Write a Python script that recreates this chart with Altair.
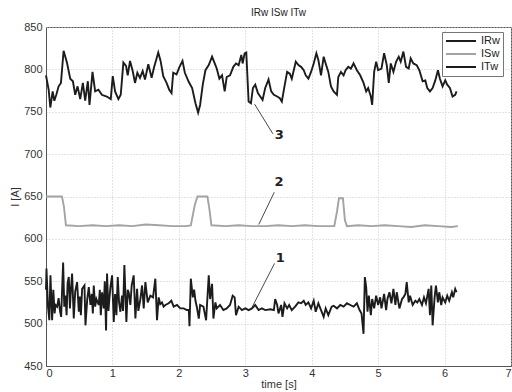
import altair as alt
import pandas as pd

# Phase currents over time: (time [s], current [A]) samples
irw_points = [
    (0.0, 540), (0.007, 565), (0.03, 520), (0.05, 504), (0.067, 557), (0.092, 504),
    (0.11, 540), (0.13, 512), (0.143, 522), (0.168, 520), (0.19, 530), (0.21, 515),
    (0.228, 508), (0.245, 545), (0.258, 572), (0.275, 520), (0.293, 533), (0.31, 510),
    (0.325, 548), (0.343, 555), (0.36, 518), (0.375, 540), (0.393, 559), (0.418, 506),
    (0.44, 538), (0.468, 549), (0.494, 514), (0.51, 532), (0.525, 510), (0.544, 541),
    (0.579, 545), (0.594, 498), (0.62, 528), (0.644, 543), (0.669, 522), (0.69, 535),
    (0.705, 512), (0.719, 545), (0.74, 520), (0.759, 529), (0.794, 522), (0.81, 540),
    (0.825, 510), (0.844, 537), (0.869, 518), (0.885, 550), (0.904, 492), (0.919, 559),
    (0.94, 515), (0.955, 530), (0.97, 543), (0.995, 557), (1.02, 502), (1.04, 535),
    (1.06, 510), (1.08, 555), (1.1, 525), (1.12, 514), (1.145, 533), (1.16, 515),
    (1.18, 569), (1.21, 502), (1.23, 540), (1.245, 537), (1.27, 522), (1.29, 545),
    (1.32, 557), (1.346, 506), (1.371, 541), (1.39, 515), (1.421, 529), (1.446, 545),
    (1.471, 518), (1.496, 549), (1.531, 525), (1.571, 533), (1.611, 531), (1.646, 553),
    (1.671, 504), (1.696, 531), (1.72, 523), (1.746, 525), (1.77, 520), (1.797, 522),
    (1.847, 524), (1.887, 527), (1.922, 520), (1.972, 522), (2.022, 518), (2.073, 518),
    (2.12, 516), (2.15, 516), (2.16, 497), (2.18, 553), (2.21, 531), (2.23, 540),
    (2.25, 527), (2.27, 520), (2.30, 506), (2.32, 522), (2.37, 520), (2.41, 504),
    (2.45, 557), (2.47, 529), (2.50, 547), (2.52, 506), (2.55, 525), (2.57, 518),
    (2.62, 522), (2.67, 516), (2.72, 518), (2.77, 522), (2.81, 533), (2.84, 531),
    (2.86, 510), (2.90, 520), (2.95, 516), (3.0, 518), (3.05, 516), (3.10, 518),
    (3.15, 522), (3.20, 516), (3.25, 518), (3.30, 516), (3.38, 517), (3.43, 516),
    (3.45, 529), (3.48, 522), (3.50, 512), (3.54, 522), (3.56, 508), (3.59, 524),
    (3.63, 518), (3.66, 522), (3.70, 516), (3.75, 520), (3.80, 525), (3.84, 524),
    (3.88, 527), (3.91, 522), (3.95, 525), (3.99, 518), (4.03, 527), (4.06, 514),
    (4.10, 524), (4.14, 516), (4.18, 508), (4.21, 518), (4.25, 510), (4.30, 520),
    (4.33, 521), (4.38, 518), (4.43, 522), (4.48, 520), (4.53, 524), (4.58, 522),
    (4.63, 520), (4.68, 524), (4.72, 516), (4.75, 512), (4.78, 488), (4.80, 555),
    (4.82, 543), (4.84, 514), (4.86, 533), (4.89, 510), (4.91, 529), (4.94, 518),
    (4.97, 533), (5.00, 522), (5.03, 531), (5.05, 518), (5.09, 535), (5.12, 516),
    (5.14, 529), (5.17, 537), (5.20, 524), (5.23, 541), (5.26, 522), (5.28, 537),
    (5.32, 518), (5.36, 529), (5.38, 531), (5.41, 535), (5.43, 549), (5.46, 525),
    (5.48, 533), (5.52, 522), (5.56, 527), (5.59, 525), (5.62, 529), (5.66, 522),
    (5.69, 531), (5.72, 524), (5.76, 541), (5.78, 510), (5.80, 545), (5.82, 498),
    (5.85, 531), (5.87, 545), (5.90, 525), (5.92, 537), (5.95, 522), (5.97, 531),
    (6.01, 525), (6.04, 533), (6.07, 527), (6.11, 537), (6.13, 531), (6.16, 541),
    (6.18, 537),
]

isw_points = [
    (0.0, 650), (0.24, 650), (0.27, 638), (0.30, 616), (0.5, 615), (0.7, 616),
    (0.9, 615), (1.1, 616), (1.3, 615), (1.5, 617), (1.7, 616), (1.9, 615),
    (2.1, 615), (2.18, 616), (2.24, 640), (2.28, 650), (2.43, 650), (2.46, 635),
    (2.49, 616), (2.7, 615), (2.9, 616), (3.1, 615), (3.3, 615), (3.5, 616),
    (3.7, 615), (3.9, 616), (4.1, 615), (4.34, 615), (4.38, 632), (4.41, 648),
    (4.47, 648), (4.50, 622), (4.53, 615), (4.7, 616), (4.9, 615), (5.1, 616),
    (5.3, 615), (5.5, 614), (5.7, 616), (5.9, 615), (6.1, 614), (6.2, 615),
]

itw_points = [
    (0.0, 793), (0.04, 776), (0.065, 755), (0.1, 774), (0.125, 763), (0.155, 770),
    (0.19, 780), (0.225, 784), (0.265, 822), (0.315, 808), (0.365, 789), (0.405, 786),
    (0.44, 770), (0.475, 780), (0.515, 765), (0.555, 784), (0.59, 763), (0.63, 786),
    (0.655, 758), (0.70, 797), (0.74, 774), (0.79, 776), (0.84, 770), (0.915, 768),
    (0.975, 765), (1.005, 792), (1.04, 774), (1.09, 765), (1.125, 770), (1.165, 808),
    (1.205, 804), (1.23, 793), (1.265, 810), (1.305, 798), (1.34, 784), (1.375, 796),
    (1.415, 790), (1.455, 798), (1.49, 788), (1.54, 806), (1.59, 790), (1.625, 802),
    (1.69, 820), (1.725, 810), (1.765, 792), (1.815, 784), (1.855, 776), (1.89, 772),
    (1.915, 796), (1.965, 794), (2.005, 802), (2.055, 810), (2.09, 796),
    (2.15, 785), (2.2, 778), (2.25, 760), (2.29, 749), (2.32, 758), (2.36, 782),
    (2.40, 799), (2.45, 805), (2.50, 815), (2.54, 807), (2.57, 801), (2.61, 789),
    (2.65, 793), (2.69, 774), (2.72, 791), (2.77, 793), (2.82, 803), (2.86, 807),
    (2.90, 805), (2.94, 817), (2.96, 807), (2.99, 819), (3.015, 820), (3.05, 762),
    (3.085, 760), (3.115, 778), (3.15, 782), (3.19, 772), (3.225, 768), (3.26, 764),
    (3.3, 778), (3.35, 788), (3.39, 774), (3.43, 770), (3.48, 768), (3.52, 766),
    (3.55, 762), (3.59, 780), (3.63, 797), (3.67, 795), (3.70, 789), (3.76, 809),
    (3.80, 805), (3.84, 803), (3.88, 799), (3.91, 793), (3.95, 789), (3.99, 797),
    (4.03, 807), (4.07, 819), (4.10, 811), (4.14, 793), (4.18, 815), (4.21, 807),
    (4.25, 797),
    (4.29, 780), (4.33, 774), (4.38, 770), (4.40, 791), (4.44, 797), (4.48, 793),
    (4.51, 799), (4.55, 803), (4.59, 801), (4.63, 807), (4.68, 799), (4.73, 793),
    (4.78, 784), (4.82, 774), (4.85, 778), (4.89, 768), (4.91, 758), (4.94, 797),
    (4.97, 809), (5.00, 799), (5.05, 801), (5.09, 819), (5.13, 805), (5.16, 784),
    (5.19, 807), (5.23, 797), (5.27, 809), (5.31, 815), (5.34, 809), (5.38, 821),
    (5.42, 803), (5.46, 801), (5.49, 813), (5.53, 807), (5.58, 805), (5.62, 799),
    (5.67, 786), (5.71, 787), (5.74, 778), (5.78, 774), (5.82, 778), (5.86, 787),
    (5.90, 799), (5.93, 789), (5.97, 780), (6.01, 787), (6.04, 782), (6.08, 778),
    (6.12, 768), (6.16, 770), (6.18, 774),
]

series_names = ["IRw", "ISw", "ITw"]
series_colors = ["#1c1c1c", "#a3a3a3", "#1c1c1c"]

# Numbered callouts: label position and the leader line to the curve
callout_text = ["1", "2", "3"]
callout_time = [3.526, 3.507, 3.511]
callout_value = [577, 667, 723]
leader_from_time = [3.10, 3.203, 3.14]
leader_from_value = [519, 617, 759]
leader_to_time = [3.44, 3.436, 3.415]
leader_to_value = [571, 655, 724]

x_ticks = [0, 1, 2, 3, 4, 5, 6, 7]
y_ticks = [450, 500, 550, 600, 650, 700, 750, 800, 850]

rows = []
for name, pts in zip(series_names, [irw_points, isw_points, itw_points]):
    rows += [{"time": t, "current": v, "series": name} for t, v in pts]
df = pd.DataFrame(rows)

callouts = pd.DataFrame({
    "label": callout_text, "time": callout_time, "value": callout_value,
    "t0": leader_from_time, "v0": leader_from_value,
    "t1": leader_to_time, "v1": leader_to_value,
})

x_scale = alt.Scale(domain=[0, 7], nice=False, zero=False)
y_scale = alt.Scale(domain=[450, 850], nice=False, zero=False)

x_axis = alt.Axis(values=x_ticks, title="time [s]", grid=True, ticks=False,
                  labelPadding=1, titlePadding=0, format="d")
y_axis = alt.Axis(values=y_ticks, title="I [A]", grid=True, ticks=False,
                  labelPadding=4, titlePadding=3, format="d")

lines = alt.Chart(df).mark_line(strokeWidth=1.9, interpolate="linear").encode(
    x=alt.X("time:Q", scale=x_scale, axis=x_axis),
    y=alt.Y("current:Q", scale=y_scale, axis=y_axis),
    color=alt.Color(
        "series:N",
        scale=alt.Scale(domain=series_names, range=series_colors),
        legend=alt.Legend(
            title=None, orient="none", legendX=396, legendY=5,
            symbolType="stroke", symbolSize=900, symbolStrokeWidth=2,
            clipHeight=12, rowPadding=1,
            labelFontSize=11, labelFont="Liberation Sans", labelColor="#222",
            fillColor="white", strokeColor="#777", padding=3,
            labelOffset=4,
        ),
    ),
    detail="series:N",
)

leaders = alt.Chart(callouts).mark_rule(color="#333", strokeWidth=0.9).encode(
    x="t0:Q", y="v0:Q", x2="t1:Q", y2="v1:Q",
)

labels = alt.Chart(callouts).mark_text(
    fontSize=13, fontWeight="bold", font="DejaVu Sans", color="#222",
    align="center", baseline="middle",
).encode(x="time:Q", y="value:Q", text="label:N")

chart = alt.layer(lines, leaders, labels).properties(
    width=465, height=339,
    title=alt.TitleParams("IRw ISw ITw", fontSize=10, fontWeight="normal",
                          font="Liberation Sans", color="#222", offset=3),
    autosize=alt.AutoSizeParams(type="none"),
    padding={"left": 46, "top": 27, "right": 1, "bottom": 26},
).configure_axis(
    labelFont="Liberation Sans", labelFontSize=11, labelColor="#333",
    titleFont="Liberation Sans", titleFontSize=11, titleFontWeight="normal",
    titleColor="#333", domainColor="#555", gridColor="#c8c8c8", gridDash=[1, 2],
    gridWidth=1,
).configure_view(stroke="#555", strokeWidth=1)

chart.save("out.html", embed_options={"renderer": "svg", "actions": False})
